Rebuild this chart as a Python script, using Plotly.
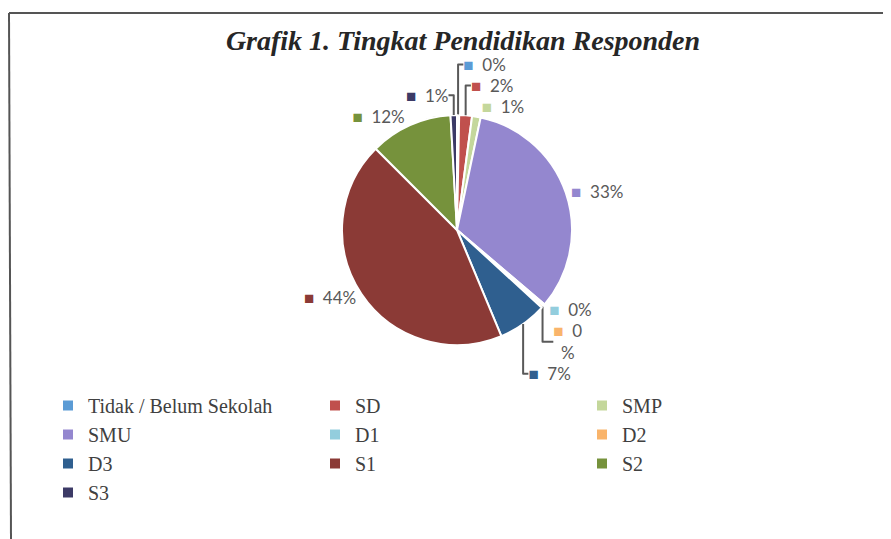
import plotly.graph_objects as go

categories = ["Tidak / Belum Sekolah", "SD", "SMP", "SMU", "D1", "D2", "D3", "S1", "S2", "S3"]
values = [0.3, 1.8, 1.2, 32.9, 0.3, 0.3, 6.9, 43.8, 11.6, 0.9]
colors = ["#5B9BD5", "#C0504D", "#C4D79B", "#9487CF", "#93CDDD", "#F9B46B",
          "#2F5F8F", "#8B3A36", "#76923C", "#3C3A66"]

total = sum(values)
labels_text = []
for name, c, v in zip(categories, colors, values):
    pct = f"{round(100 * v / total)}"
    num = pct + ("<br>%" if name == "D2" else "%")
    labels_text.append(f'<span style="color:{c}">■</span>  {num}')

# the page has an 8px body margin; figure coordinates are offset accordingly
OFF = 8
W, H = 883, 531


def px(x):
    return (x - OFF) / W


def py(y):
    return 1 - (y - OFF) / H


cx, cy, r = 457, 230, 115

fig = go.Figure()
fig.add_trace(go.Pie(
    labels=categories,
    values=values,
    text=labels_text,
    textinfo="text",
    textposition="outside",
    sort=False,
    direction="clockwise",
    rotation=0,
    marker=dict(colors=colors, line=dict(color="white", width=2)),
    outsidetextfont=dict(family="Lato", size=17, color="#595959"),
    domain=dict(x=[px(cx - r), px(cx + r)], y=[py(cy + r), py(cy - r)]),
    automargin=False,
    showlegend=True,
))

fig.update_layout(
    width=W, height=H,
    margin=dict(l=0, r=0, t=0, b=0),
    paper_bgcolor="white",
    plot_bgcolor="white",
    title=dict(text="<b><i>Grafik 1. Tingkat Pendidikan Responden</i></b>",
               x=px(463), xanchor="center", y=py(40), yanchor="middle",
               font=dict(family="Liberation Serif", size=28, color="#262626")),
    legend=dict(orientation="h", x=px(48), xanchor="left", y=py(386), yanchor="top",
                entrywidth=222, entrywidthmode="pixels",
                font=dict(family="Liberation Serif", size=20, color="#404040"),
                traceorder="normal"),
    shapes=[
        dict(type="line", xref="paper", yref="paper", x0=px(9), x1=1, y0=py(13), y1=py(13),
             line=dict(color="#555555", width=2)),
        dict(type="line", xref="paper", yref="paper", x0=px(9), x1=px(11), y0=py(13), y1=0,
             line=dict(color="#555555", width=2)),
    ],
)

fig.write_html("out.html")
